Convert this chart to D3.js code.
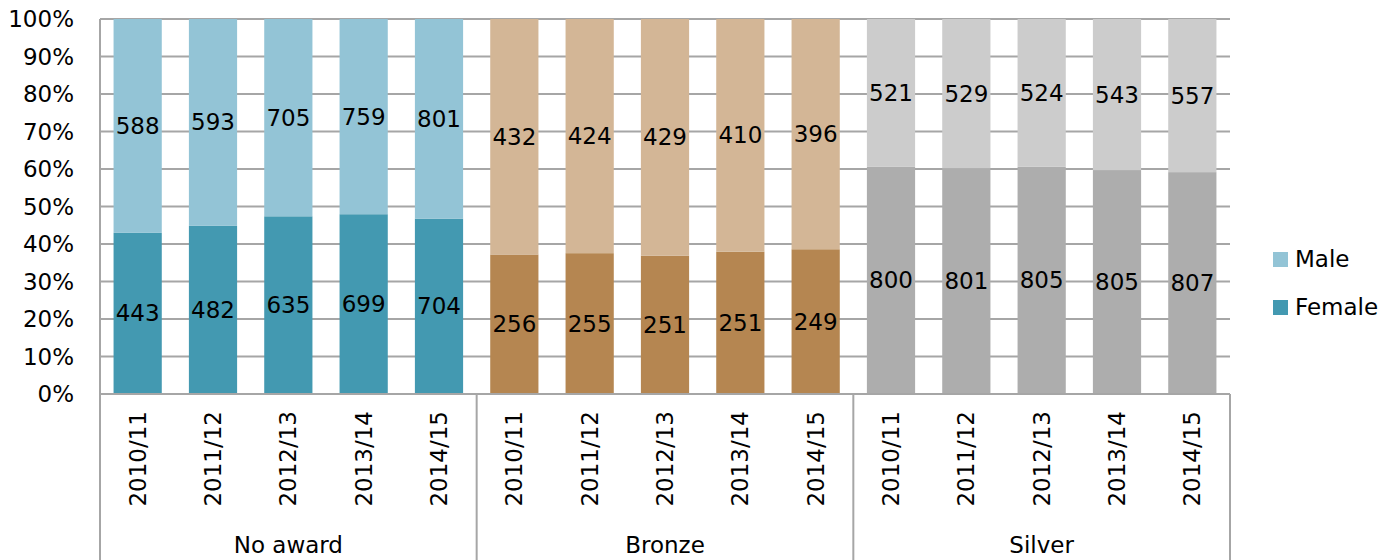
<!DOCTYPE html>
<html>
<head>
<meta charset="utf-8">
<script src="https://cdn.jsdelivr.net/npm/d3@7"></script>
<style>
  html, body { margin: 0; padding: 0; background: #fff; }
  svg text { font-family: "DejaVu Sans", Verdana, sans-serif; fill: #000; }
</style>
</head>
<body>
<svg id="chart" width="1400" height="560"></svg>
<script>
// Award groups and school years
const groups = ["No award", "Bronze", "Silver"];
const years = ["2010/11", "2011/12", "2012/13", "2013/14", "2014/15"];

// Counts per group, one entry per year
const femaleCounts = [
  [443, 482, 635, 699, 704],
  [256, 255, 251, 251, 249],
  [800, 801, 805, 805, 807]
];
const maleCounts = [
  [588, 593, 705, 759, 801],
  [432, 424, 429, 410, 396],
  [521, 529, 524, 543, 557]
];

const yTicks = [0, 0.1, 0.2, 0.3, 0.4, 0.5, 0.6, 0.7, 0.8, 0.9, 1.0];
const seriesNames = ["Male", "Female"];

// Colours per group: [female, male]
const palette = [
  ["#4399B1", "#93C4D6"],
  ["#B58651", "#D3B696"],
  ["#ADADAD", "#CCCCCC"]
];

const rows = [];
groups.forEach((g, gi) => {
  years.forEach((yr, yi) => {
    const f = femaleCounts[gi][yi], m = maleCounts[gi][yi];
    rows.push({ key: g + "|" + yr, group: g, gi, year: yr, female: f, male: m, total: f + m });
  });
});

const svg = d3.select("#chart");
const plotLeft = 100, plotRight = 1230, plotTop = 19, plotBottom = 394;

const x = d3.scaleBand().domain(rows.map(d => d.key)).range([plotLeft, plotRight]).paddingInner(0.36).paddingOuter(0.18);
const y = d3.scaleLinear().domain([0, 1]).range([plotBottom, plotTop]);

const gridColor = "#A6A6A6";

// Horizontal gridlines
svg.append("g").selectAll("line").data(yTicks).join("line")
  .attr("x1", plotLeft).attr("x2", plotRight)
  .attr("y1", d => y(d)).attr("y2", d => y(d))
  .attr("stroke", gridColor).attr("stroke-width", 2);

// Y-axis labels
svg.append("g").selectAll("text").data(yTicks).join("text")
  .attr("x", 74).attr("y", d => y(d))
  .attr("text-anchor", "end").attr("dominant-baseline", "central")
  .style("font-size", "23px")
  .text(d => d3.format(".0%")(d));

// Stacked bars
const barG = svg.append("g");
rows.forEach(d => {
  const fShare = d.female / d.total;
  const bx = x(d.key), bw = x.bandwidth();
  barG.append("rect")
    .attr("x", bx).attr("width", bw)
    .attr("y", y(fShare)).attr("height", y(0) - y(fShare))
    .attr("fill", palette[d.gi][0]);
  barG.append("rect")
    .attr("x", bx).attr("width", bw)
    .attr("y", y(1)).attr("height", y(fShare) - y(1))
    .attr("fill", palette[d.gi][1]);
  barG.append("text")
    .attr("x", bx + bw / 2).attr("y", y(fShare / 2))
    .attr("text-anchor", "middle").attr("dominant-baseline", "central")
    .style("font-size", "23px").text(d.female);
  barG.append("text")
    .attr("x", bx + bw / 2).attr("y", y(fShare + (1 - fShare) / 2))
    .attr("text-anchor", "middle").attr("dominant-baseline", "central")
    .style("font-size", "23px").text(d.male);
});

// Category axis line
svg.append("line").attr("x1", plotLeft).attr("x2", plotRight).attr("y1", plotBottom).attr("y2", plotBottom)
  .attr("stroke", gridColor).attr("stroke-width", 2);

// Group separators extending below the axis
const groupWidth = (plotRight - plotLeft) / groups.length;
const sepX = d3.range(groups.length + 1).map(i => plotLeft + i * groupWidth);
svg.append("g").selectAll("line").data(sepX).join("line")
  .attr("x1", d => d).attr("x2", d => d)
  .attr("y1", (d, i) => (i === 0 ? plotTop : plotBottom)).attr("y2", 560)
  .attr("stroke", gridColor).attr("stroke-width", 2);

// Rotated year labels
svg.append("g").selectAll("text").data(rows).join("text")
  .attr("transform", d => `translate(${x(d.key) + x.bandwidth() / 2 + 8},411) rotate(-90)`)
  .attr("text-anchor", "end")
  .style("font-size", "23px")
  .text(d => d.year);

// Group labels
svg.append("g").selectAll("text").data(groups).join("text")
  .attr("x", (d, i) => plotLeft + (i + 0.5) * groupWidth).attr("y", 545)
  .attr("text-anchor", "middle").attr("dominant-baseline", "central")
  .style("font-size", "23px")
  .text(d => d);

// Legend
const legend = svg.append("g");
seriesNames.forEach((name, i) => {
  const ly = 259 + i * 48;
  legend.append("rect").attr("x", 1273).attr("y", ly - 7).attr("width", 15).attr("height", 15)
    .attr("fill", i === 0 ? palette[0][1] : palette[0][0]);
  legend.append("text").attr("x", 1295).attr("y", ly)
    .attr("dominant-baseline", "central").style("font-size", "23px").text(name);
});
</script>
</body>
</html>
